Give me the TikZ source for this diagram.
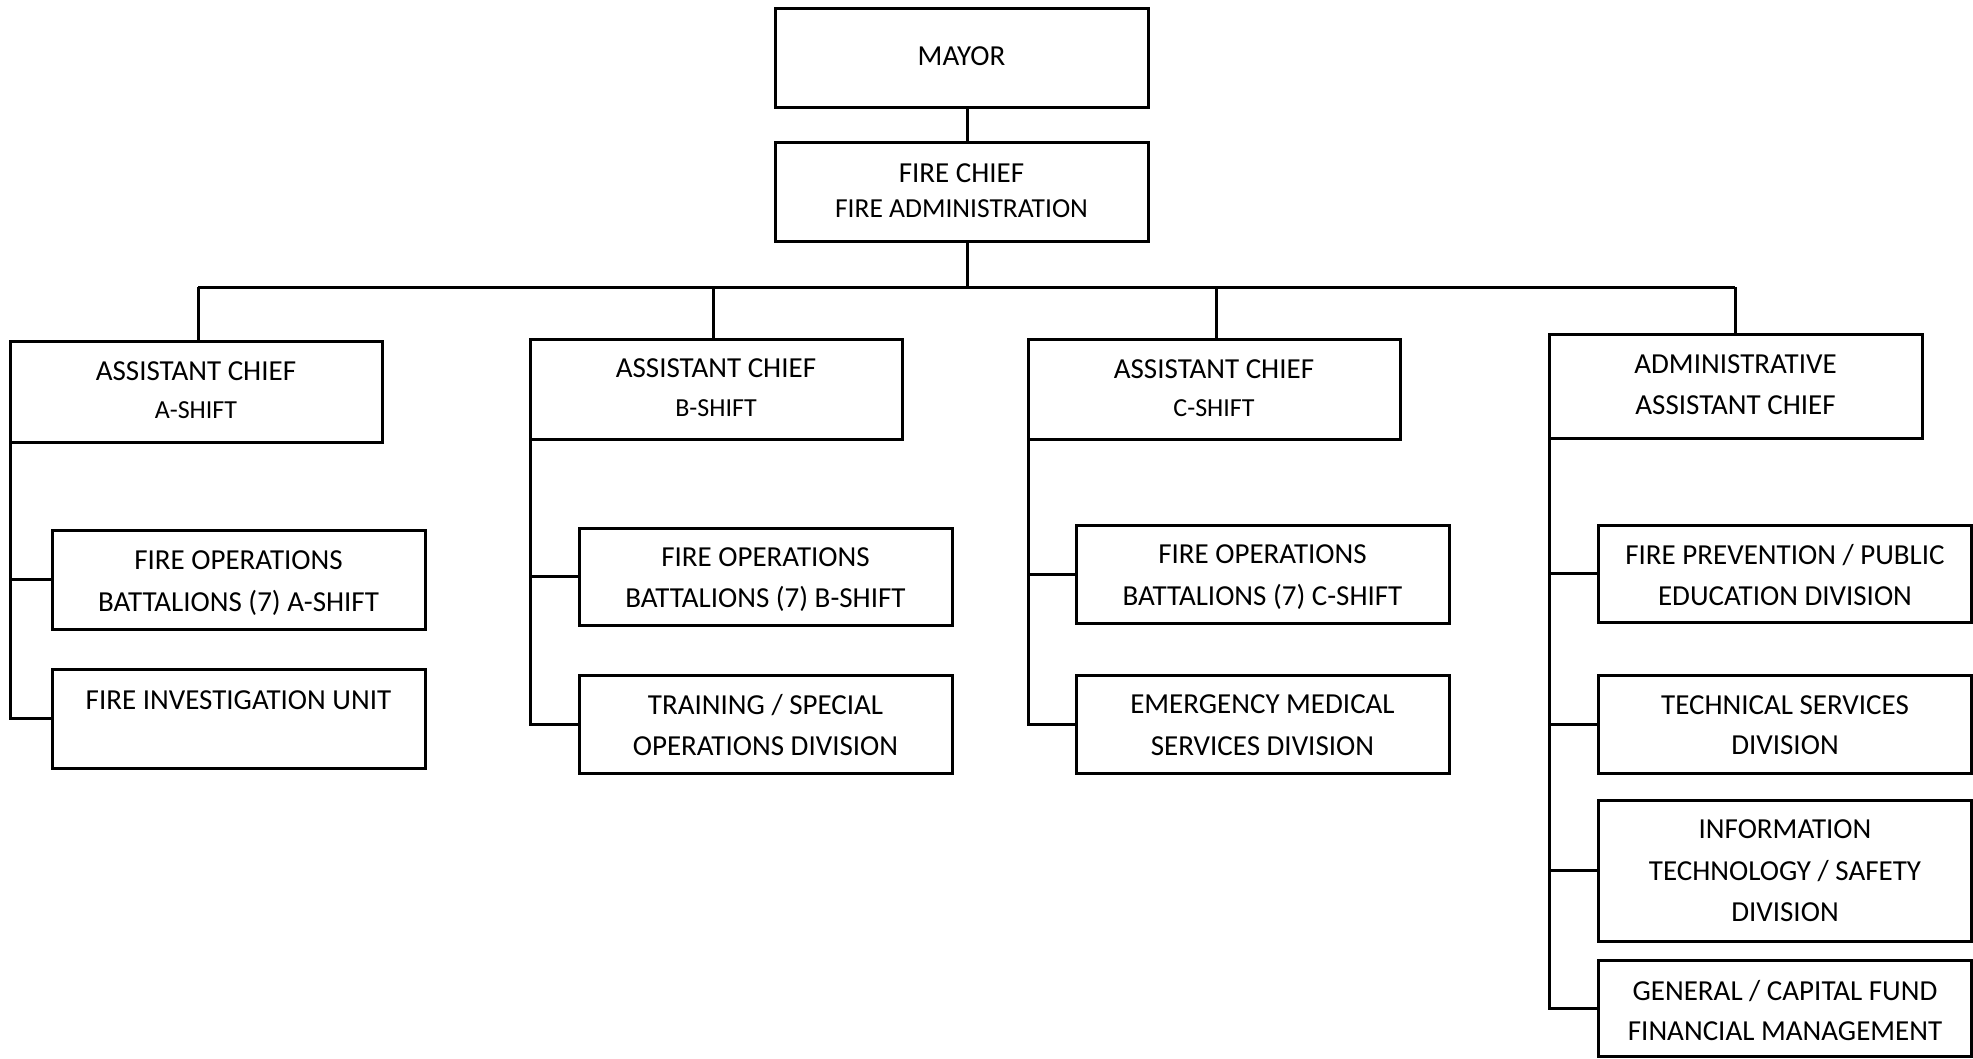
\documentclass[tikz,border=0pt]{standalone}
\usepackage{fontspec}
\setmainfont{Carlito}
\begin{document}
\begin{tikzpicture}[x=1pt,y=-1pt,
  box/.style={draw=black,line width=3pt,rectangle,anchor=north west,inner sep=0pt,outer sep=0pt},
  conn/.style={draw=black,line width=3pt},
  big/.style={anchor=base,inner sep=0pt,font=\fontsize{29}{35}\selectfont},
  small/.style={anchor=base,inner sep=0pt,font=\fontsize{26}{31}\selectfont},
  mid/.style={anchor=base,inner sep=0pt,font=\fontsize{27.5}{33}\selectfont}]
\useasboundingbox (0,0) rectangle (1973,1058);
% boxes
\node[box,minimum width=373pt,minimum height=99pt] (mayor) at (775,8) {};
\node[box,minimum width=373pt,minimum height=99pt] (chief) at (775,142) {};
\node[box,minimum width=372pt,minimum height=101pt] (ashift) at (10,341) {};
\node[box,minimum width=372pt,minimum height=100pt] (bshift) at (530,339) {};
\node[box,minimum width=372pt,minimum height=100pt] (cshift) at (1028,339) {};
\node[box,minimum width=373pt,minimum height=104pt] (admin) at (1549,334) {};
\node[box,minimum width=373pt,minimum height=99pt] (opsA) at (52,530) {};
\node[box,minimum width=373pt,minimum height=99pt] (inv) at (52,669) {};
\node[box,minimum width=373pt,minimum height=97pt] (opsB) at (579,528) {};
\node[box,minimum width=373pt,minimum height=98pt] (train) at (579,675) {};
\node[box,minimum width=373pt,minimum height=98pt] (opsC) at (1076,525) {};
\node[box,minimum width=373pt,minimum height=98pt] (ems) at (1076,675) {};
\node[box,minimum width=373pt,minimum height=97pt] (prev) at (1598,525) {};
\node[box,minimum width=373pt,minimum height=98pt] (tech) at (1598,675) {};
\node[box,minimum width=373pt,minimum height=141pt] (itd) at (1598,800) {};
\node[box,minimum width=373pt,minimum height=96pt] (gen) at (1598,960) {};
% texts
\node[big] (tmayor) at (961.5,65) {MAYOR};
\node[big] (tchief1) at (961.5,182) {FIRE CHIEF};
\node[mid] (tchief2) at (961.5,217) {FIRE ADMINISTRATION};
\node[big] (ta1) at (196,380) {ASSISTANT CHIEF};
\node[small] (ta2) at (196,418) {A-SHIFT};
\node[big] (tb1) at (716,377) {ASSISTANT CHIEF};
\node[small] (tb2) at (716,416) {B-SHIFT};
\node[big] (tc1) at (1214,378) {ASSISTANT CHIEF};
\node[small] (tc2) at (1214,416) {C-SHIFT};
\node[big] (tad1) at (1735.5,373) {ADMINISTRATIVE};
\node[big] (tad2) at (1735.5,414) {ASSISTANT CHIEF};
\node[big] (toa1) at (238.5,569) {FIRE OPERATIONS};
\node[big] (toa2) at (238.5,611.5) {BATTALIONS (7) A-SHIFT};
\node[big] (tinv) at (238.5,709) {FIRE INVESTIGATION UNIT};
\node[big] (tob1) at (765.5,566) {FIRE OPERATIONS};
\node[big] (tob2) at (765.5,607.5) {BATTALIONS (7) B-SHIFT};
\node[big] (ttr1) at (765.5,714) {TRAINING / SPECIAL};
\node[big] (ttr2) at (765.5,755) {OPERATIONS DIVISION};
\node[big] (toc1) at (1262.5,563) {FIRE OPERATIONS};
\node[big] (toc2) at (1262.5,605) {BATTALIONS (7) C-SHIFT};
\node[big] (tem1) at (1262.5,713.5) {EMERGENCY MEDICAL};
\node[big] (tem2) at (1262.5,755) {SERVICES DIVISION};
\node[big] (tpr1) at (1785,564.5) {FIRE PREVENTION / PUBLIC};
\node[big] (tpr2) at (1785,605.5) {EDUCATION DIVISION};
\node[big] (tte1) at (1785,714) {TECHNICAL SERVICES};
\node[big] (tte2) at (1785,754) {DIVISION};
\node[big] (tit1) at (1785,838.5) {INFORMATION};
\node[big] (tit2) at (1785,880) {TECHNOLOGY / SAFETY};
\node[big] (tit3) at (1785,921.5) {DIVISION};
\node[big] (tge1) at (1785,1000) {GENERAL / CAPITAL FUND};
\node[big] (tge2) at (1785,1040) {FINANCIAL MANAGEMENT};
% connectors
\coordinate (bar) at (967,287);
\coordinate (barA) at (198,287);
\coordinate (barB) at (713,287);
\coordinate (barC) at (1216,287);
\coordinate (barD) at (1735,287);
\draw[conn] (mayor.south -| bar) -- (chief.north -| bar);
\draw[conn] (chief.south -| bar) -- (bar);
\draw[conn] (barA) -- (barD);
\draw[conn] (barA) -- (ashift.north -| barA);
\draw[conn] (barB) -- (bshift.north -| barB);
\draw[conn] (barC) -- (cshift.north -| barC);
\draw[conn] (barD) -- (admin.north -| barD);
\draw[conn] (ashift.south west) |- (inv.west);
\draw[conn] (ashift.south west |- opsA.west) -- (opsA.west);
\draw[conn] (bshift.south west) |- (train.west);
\draw[conn] (bshift.south west |- opsB.west) -- (opsB.west);
\draw[conn] (cshift.south west) |- (ems.west);
\draw[conn] (cshift.south west |- opsC.west) -- (opsC.west);
\draw[conn] (admin.south west) |- (gen.west);
\draw[conn] (admin.south west |- prev.west) -- (prev.west);
\draw[conn] (admin.south west |- tech.west) -- (tech.west);
\draw[conn] (admin.south west |- itd.west) -- (itd.west);
\end{tikzpicture}
\end{document}
